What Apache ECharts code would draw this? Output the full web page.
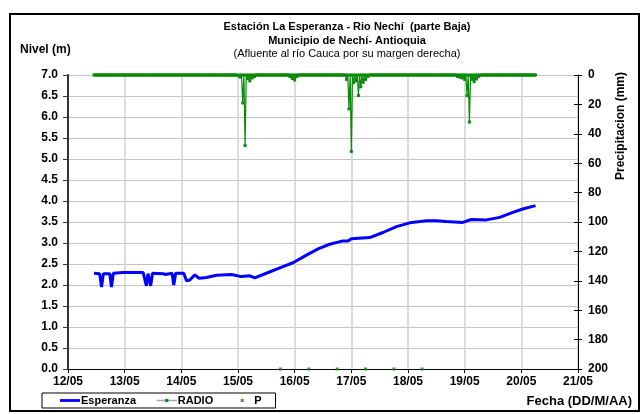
<!DOCTYPE html>
<html>
<head>
<meta charset="utf-8">
<script src="https://cdn.jsdelivr.net/npm/echarts@6/dist/echarts.min.js"></script>
<style>html,body{margin:0;padding:0;background:#fff;}#c{width:642px;height:414px;}</style>
</head>
<body>
<div id="c"></div>
<script>
// ---- data ----
var dayLabels = ['12/05','13/05','14/05','15/05','16/05','17/05','18/05','19/05','20/05','21/05'];
var levelTicks = [0, 7, 0.5];          // min, max, step (m)
var rainTicks = [0, 200, 20];          // min, max, step (mm)

// Esperanza: hours since 12/05 00:00 and level (m)
var esperanzaHours = [11,13.4,14.2,15.0,17.7,18.4,19.2,23.3,31.8,32.6,33.2,33.9,34.3,35.0,35.8,40.3,41.2,42.0,44.1,44.8,45.6,49.0,50.2,51.6,53.7,55.5,58.6,62.9,69.2,73.4,77.0,79.1,84.0,89.7,95.3,101,105.9,110.8,116.5,118.6,120,127.8,133.4,139.1,144.7,151.8,156,160.2,167.2,170.8,177.2,182.8,188.4,192.6,198];
var esperanzaLevel = [2.28,2.27,1.95,2.27,2.27,1.95,2.28,2.30,2.30,2.30,1.98,2.27,2.27,1.98,2.28,2.27,2.25,2.28,2.28,2.00,2.28,2.28,2.10,2.12,2.24,2.16,2.18,2.23,2.25,2.20,2.22,2.17,2.28,2.41,2.53,2.71,2.86,2.97,3.05,3.05,3.10,3.13,3.25,3.39,3.48,3.53,3.53,3.51,3.49,3.56,3.55,3.61,3.73,3.81,3.89];

// RADIO: half-hourly precipitation (mm), first reading at hour 11 of 12/05
var radioStartHour = 11;
var radioStepHours = 0.5;
var radioDay12 = [0,0,0,0,0,0,0,0,0,0,0,0,0,0,0,0,0,0,0,0,0,0,0,0,0,0];
var radioDay13 = [0,0,0,0,0,0,0,0,0,0,0,0,0,0,0,0,0,0,0,0,0,0,0,0,0,0,0,0,0,0,0,0,0,0,0,0,0,0,0,0,0,0,0,0,0,0,0,0];
var radioDay14 = [0,0,0,0,0,0,0,0,0,0,0,0,0,0,0,0,0,0,0,0,0,0,0,0,0,0,0,0,0,0,0,0,0,0,0,0,0,0,0,0,0,0,0,0,0,0,0,0];
var radioDay15 = [0.5,0,1.5,0,19,0,48,0,2.5,0,4,0,2,0,1,0,0,0,0,0,0,0,0,0,0,0,0,0,0,0,0,0,0,0,0,0,0,0,0,0,0,0,0,0,1,0,2.3,0];
var radioDay16 = [3.4,0,1,0,0,0,0,0,0,0,0,0,0,0,0,0,0,0,0,0,0,0,0,0,0,0,0,0,0,0,0,0,0,0,0,0,0,0,0,0,0,0,0,0,3,0,23,0];
var radioDay17 = [52,0,5,0,4,0,14,0,8,0,5,0,3,0,1,0,0,0,0,0,0,0,0,0,0,0,0,0,0,0,0,0,0,0,0,0,0,0,0,0,0,0,0,0,0,0,0,0];
var radioDay18 = [0,0,0,0,0,0,0,0,0,0,0,0,0,0,0,0,0,0,0,0,0,0,0,0,0,0,0,0,0,0,0,0,0,0,0,0,0,0,0,0,0,0,1,0,1.5,0,2,0];
var radioDay19 = [3,0,14,0,32,0,3,0,4.5,0,2.7,0,1,0,0,0,0,0,0,0,0,0,0,0,0,0,0,0,0,0,0,0,0,0,0,0,0,0,0,0,0,0,0,0,0,0,0,0];
var radioDay20 = [0,0,0,0,0,0,0,0,0,0,0,0,0];

// P: hours and values
var pHours = [90,102,114,126,138,150];
var pValues = [0,0,0,0,0,0];

// ---- build ----
var radioValues = [].concat(radioDay12, radioDay13, radioDay14, radioDay15, radioDay16, radioDay17, radioDay18, radioDay19, radioDay20);
var radioData = radioValues.map(function (v, i) { return [radioStartHour + i * radioStepHours, v]; });
var espData = esperanzaHours.map(function (h, i) { return [h, esperanzaLevel[i]]; });
var pData = pHours.map(function (h, i) { return [h, pValues[i]]; });

var FONT = '"Liberation Sans", Arial, sans-serif';
var chart = echarts.init(document.getElementById('c'), null, {renderer: 'canvas'});
chart.setOption({
  backgroundColor: '#fff',
  animation: false,
  textStyle: {fontFamily: FONT},
  grid: {left: 68, right: 64, top: 75, bottom: 45, containLabel: false},
  xAxis: {
    type: 'value', min: 0, max: (dayLabels.length - 1) * 24, interval: 24,
    axisLine: {lineStyle: {color: '#000', width: 1}},
    axisTick: {show: true, length: 4, lineStyle: {color: '#000'}},
    axisLabel: {margin: 7, color: '#000', fontWeight: 'bold', fontSize: 12, fontFamily: FONT,
      formatter: function (v) { return dayLabels[Math.round(v / 24)]; }},
    splitLine: {show: true, lineStyle: {color: '#d0d0d0', width: 1.5}}
  },
  yAxis: [{
    type: 'value', min: levelTicks[0], max: levelTicks[1], interval: levelTicks[2], position: 'left',
    axisLine: {show: true, lineStyle: {color: '#333', width: 2}},
    axisTick: {show: true, length: 5, lineStyle: {color: '#333'}},
    axisLabel: {margin: 10, color: '#000', fontWeight: 'bold', fontSize: 12, fontFamily: FONT,
      formatter: function (v) { return v.toFixed(1); }},
    splitLine: {show: true, lineStyle: {color: '#c4c4c4', width: 1}}
  }, {
    type: 'value', min: rainTicks[0], max: rainTicks[1], interval: rainTicks[2], position: 'right', inverse: true,
    axisLine: {show: true, lineStyle: {color: '#000', width: 1}},
    axisTick: {show: true, length: 4, lineStyle: {color: '#000'}},
    axisLabel: {margin: 10, color: '#000', fontWeight: 'bold', fontSize: 12, fontFamily: FONT},
    splitLine: {show: false}
  }, {
    type: 'value', min: rainTicks[0], max: rainTicks[1], interval: rainTicks[2], position: 'right', inverse: true,
    axisLine: {show: false},
    axisTick: {show: true, inside: true, length: 4, lineStyle: {color: '#000'}},
    axisLabel: {show: false},
    splitLine: {show: false}
  }],
  legend: {
    left: 42, top: 393, orient: 'horizontal',
    padding: [2, 14, 2, 18], itemGap: 20, itemWidth: 20, itemHeight: 4,
    borderColor: '#000', borderWidth: 1, backgroundColor: '#fff',
    textStyle: {fontWeight: 'bold', fontSize: 11, color: '#000', fontFamily: FONT, padding: [0, 0, 0, -4]},
    data: [
      {name: 'Esperanza', icon: 'path://M0,0M20,4M0,0.6h20v2.8h-20z'},
      {name: 'RADIO', lineStyle: {color: '#a8a8a8', width: 1.5}},
      {name: 'P', icon: 'path://M0,0M20,4M7.5,0.5h3v3h-3z'}
    ]
  },
  series: [{
    name: 'Esperanza', type: 'line', xAxisIndex: 0, yAxisIndex: 0, data: espData,
    symbol: 'none', lineStyle: {color: '#0000ff', width: 3}, itemStyle: {color: '#0000ff'}, z: 3
  }, {
    name: 'RADIO', type: 'line', xAxisIndex: 0, yAxisIndex: 1, data: radioData,
    symbol: 'rect', symbolSize: 3, showSymbol: true, showAllSymbol: true, clip: false,
    lineStyle: {color: '#0a8a0a', width: 1.2}, itemStyle: {color: '#0a8a0a'}, z: 4
  }, {
    name: 'P', type: 'scatter', xAxisIndex: 0, yAxisIndex: 0, data: pData,
    symbol: 'rect', symbolSize: 3, clip: false, itemStyle: {color: '#0a8a0a'}, z: 5
  }],
  graphic: [
    {type: 'rect', shape: {x: 10, y: 14, width: 629, height: 397}, style: {fill: 'none', stroke: '#000', lineWidth: 2}, silent: true, z: 100},
    {type: 'text', x: 347, y: 27, style: {text: 'Estación La Esperanza - Rio Nechí  (parte Baja)', font: 'bold 11px ' + FONT, fill: '#000', align: 'center', verticalAlign: 'middle'}},
    {type: 'text', x: 347, y: 41, style: {text: 'Municipio de Nechí- Antioquia', font: 'bold 11px ' + FONT, fill: '#000', align: 'center', verticalAlign: 'middle'}},
    {type: 'text', x: 347, y: 54, style: {text: '(Afluente al río Cauca por su margen derecha)', font: '11px ' + FONT, fill: '#000', align: 'center', verticalAlign: 'middle'}},
    {type: 'text', x: 20, y: 50, style: {text: 'Nivel (m)', font: 'bold 12px ' + FONT, fill: '#000', align: 'left', verticalAlign: 'middle'}},
    {type: 'text', x: 621, y: 126, rotation: Math.PI / 2, style: {text: 'Precipitacion (mm)', font: 'bold 12px ' + FONT, fill: '#000', align: 'center', verticalAlign: 'middle'}},
    {type: 'text', x: 632, y: 401, style: {text: 'Fecha (DD/M/AA)', font: 'bold 13px ' + FONT, fill: '#000', align: 'right', verticalAlign: 'middle'}}
  ]
});
</script>
</body>
</html>
